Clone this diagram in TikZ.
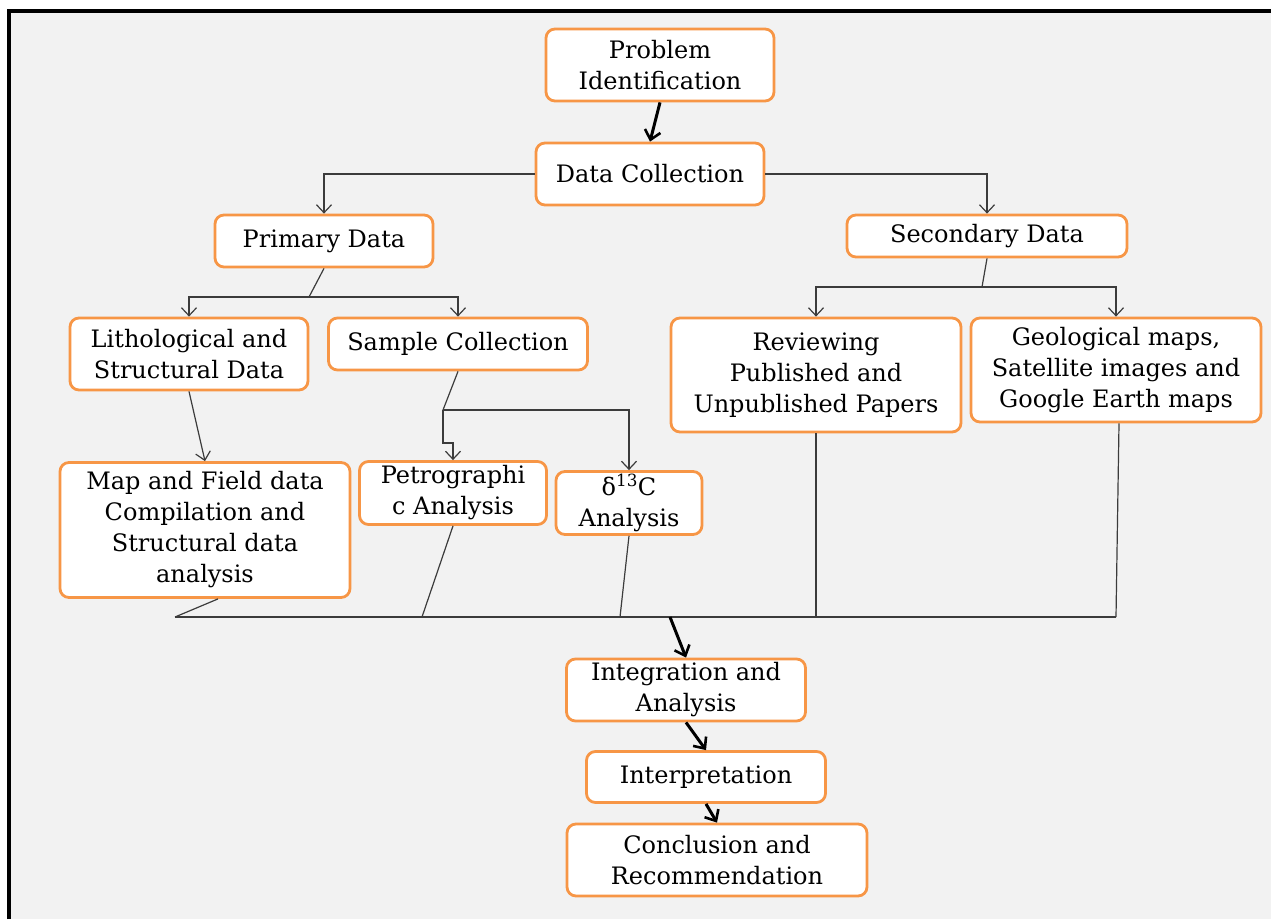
\documentclass[tikz,border=0pt]{standalone}
\usepackage{fontspec}
\setmainfont{DejaVu Serif}
\usepackage{tikz}
\usetikzlibrary{arrows.meta}

\definecolor{boxorange}{HTML}{F79646}
\definecolor{pagegray}{HTML}{F2F2F2}
\definecolor{linegray}{HTML}{3C3C3C}

\tikzset{
  stagebox/.style={draw=boxorange, line width=2.8pt, fill=white, rounded corners=9pt,
    align=center, inner sep=0pt, font=\fontsize{24}{31}\selectfont},
  thinarrow/.style={draw=linegray, line width=1.2pt, -{Straight Barb[length=8pt,width=15pt]}},
  thinline/.style={draw=linegray, line width=1.2pt},
  bigarrow/.style={draw=black, line width=3pt, -{Straight Barb[length=9pt,width=16pt,line width=2.6pt]}}
}

\begin{document}
\begin{tikzpicture}[x=1pt,y=-1pt]
  % page and frame
  \useasboundingbox (0,0) rectangle (1271,919);
  \fill[white] (0,0) rectangle (1271,919);
  \fill[pagegray] (9,11) rectangle (1271,919);
  \draw[line width=3.2pt] (9,919) -- (9,11) -- (1271,11);

  % stages
  \node[stagebox, minimum width=228pt, minimum height=72pt] (prob) at (660,65) {Problem\\Identification};
  \node[stagebox, minimum width=228pt, minimum height=62pt] (dcoll) at (650,174) {Data Collection};
  \node[stagebox, minimum width=218pt, minimum height=52pt] (prim) at (324,241) {Primary Data};
  \node[stagebox, minimum width=280pt, minimum height=42pt] (sec) at (987,236) {Secondary Data};
  \node[stagebox, minimum width=238pt, minimum height=72pt] (litho) at (189,354) {Lithological and\\Structural Data};
  \node[stagebox, minimum width=259pt, minimum height=52pt] (sample) at (458,344) {Sample Collection};
  \node[stagebox, minimum width=290pt, minimum height=114pt] (review) at (816,375) {Reviewing\\Published and\\Unpublished Papers};
  \node[stagebox, minimum width=290pt, minimum height=104pt] (geo) at (1116,370) {Geological maps,\\Satellite images and\\Google Earth maps};
  \node[stagebox, minimum width=290pt, minimum height=135pt] (mapf) at (205,530) {Map and Field data\\Compilation and\\Structural data\\analysis};
  \node[stagebox, minimum width=187pt, minimum height=63pt] (petro) at (453,493) {Petrographi\\c Analysis};
  \node[stagebox, minimum width=146pt, minimum height=63pt] (dcarb) at (629,503) {δ\textsuperscript{13}C\\Analysis};
  \node[stagebox, minimum width=239pt, minimum height=62pt] (integ) at (686,690) {Integration and\\Analysis};
  \node[stagebox, minimum width=239pt, minimum height=51pt] (interp) at (706,777) {Interpretation};
  \node[stagebox, minimum width=300pt, minimum height=72pt] (concl) at (717,860) {Conclusion and\\Recommendation};

  % junctions
  \coordinate (pj) at (309,297);
  \coordinate (sj) at (982,287);
  \coordinate (cj) at (443,410);
  \coordinate (ck) at (443,443);
  \coordinate (cm) at (453,443);
  \coordinate (bl) at (175,617);
  \coordinate (br) at (1116,617);
  \coordinate (bp) at (422,617);
  \coordinate (bd) at (620,617);
  \coordinate (bv) at (816,617);
  \coordinate (bi) at (670,617);

  % connectors
  \draw[bigarrow] (prob.south) -- (dcoll.north);
  \draw[thinarrow] (dcoll.west) -| (prim.north);
  \draw[thinarrow] (dcoll.east) -| (sec.north);

  \draw[thinline] (prim.south) -- (pj);
  \draw[thinarrow] (pj) -| (litho.north);
  \draw[thinarrow] (pj) -| (sample.north);

  \draw[thinline] (sec.south) -- (sj);
  \draw[thinarrow] (sj) -| (review.north);
  \draw[thinarrow] (sj) -| (geo.north);

  \draw[thinarrow] (litho.south) -- (mapf.north);

  \draw[thinline] (sample.south) -- (cj);
  \draw[thinarrow] (cj) -| (dcarb.north);
  \draw[thinarrow] (cj) -- (ck) -- (cm) -- (petro.north);

  \draw[thinline] ([xshift=13pt]mapf.south) -- (bl);
  \draw[thinline] (petro.south) -- (bp);
  \draw[thinline] (dcarb.south) -- (bd);
  \draw[thinline] (review.south) -- (bv);
  \draw[thinline] ([xshift=3pt]geo.south) -- (br);
  \draw[thinline] (bl) -- (br);

  \draw[bigarrow] (bi) -- (integ.north);
  \draw[bigarrow] (integ.south) -- (interp.north);
  \draw[bigarrow] (interp.south) -- (concl.north);
\end{tikzpicture}
\end{document}
